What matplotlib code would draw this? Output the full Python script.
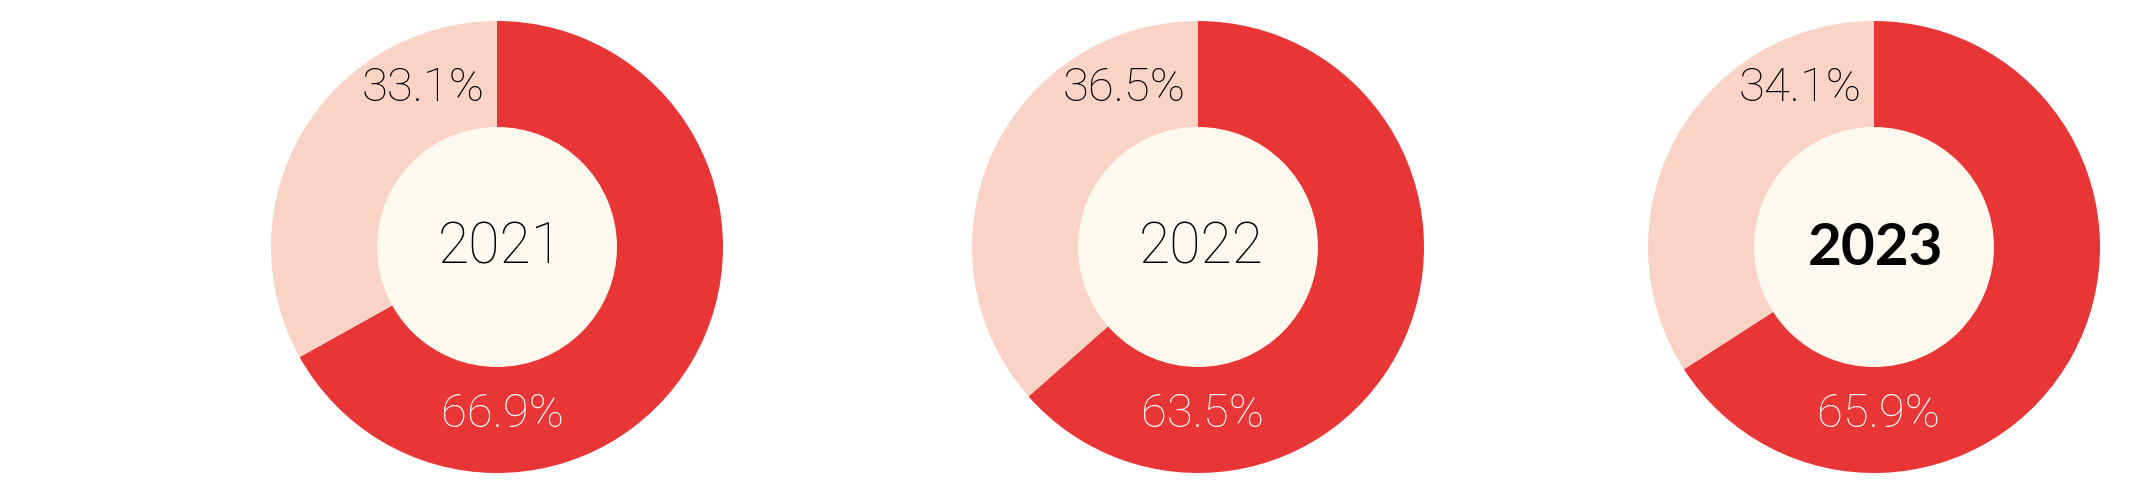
import matplotlib
matplotlib.use("Agg")
import matplotlib.pyplot as plt
from matplotlib.patches import Circle

# ── data ──────────────────────────────────────────────────────────────
years = ["2021", "2022", "2023"]
share_main = [66.9, 63.5, 65.9]      # red wedge
share_other = [33.1, 36.5, 34.1]     # light wedge
bold_year = "2023"

# ── style ─────────────────────────────────────────────────────────────
RED = "#E83536"
PINK = "#FAD3C7"
CREAM = "#FEF9EE"
FONT = ["Roboto", "DejaVu Sans"]
FONT_BOLD = ["Lato", "DejaVu Sans"]

W, H = 2133, 494
centers_x = [497, 1198, 1874]   # layout positions (pixels)
center_y = 247
r_outer = 226
r_inner = 120

fig = plt.figure(figsize=(W / 100, H / 100), dpi=100)
ax = fig.add_axes([0, 0, 1, 1])

for i, year in enumerate(years):
    cx = centers_x[i]
    # pie is drawn in a y-down frame, so counterclockwise here = clockwise on screen
    ax.pie(
        [share_main[i], share_other[i]],
        colors=[RED, PINK],
        startangle=-90,
        counterclock=True,
        center=(cx, center_y),
        radius=r_outer,
        wedgeprops=dict(linewidth=0),
        frame=True,
    )
    ax.add_patch(Circle((cx, center_y), r_inner, color=CREAM, lw=0, zorder=3))

    if year == bold_year:
        ax.text(cx + 2, center_y + 1, year, ha="center", va="center",
                fontsize=42, family=FONT_BOLD, weight="bold",
                color="black", zorder=4)
    else:
        ax.text(cx + 3, center_y + 1, year, ha="center", va="center",
                fontsize=41, family=FONT, weight="light",
                color="black", zorder=4)
    ax.text(cx - 12, 88, f"{share_other[i]:.1f}%", ha="right", va="center",
            fontsize=34, family=FONT, weight="light", color="black", zorder=4)
    ax.text(cx + 5, 414, f"{share_main[i]:.1f}%", ha="center", va="center",
            fontsize=34, family=FONT, weight="light", color="white", zorder=4)

ax.set_xlim(0, W)
ax.set_ylim(H, 0)
ax.set_aspect("equal")
ax.axis("off")

fig.savefig("out.png", dpi=100, facecolor="white")
